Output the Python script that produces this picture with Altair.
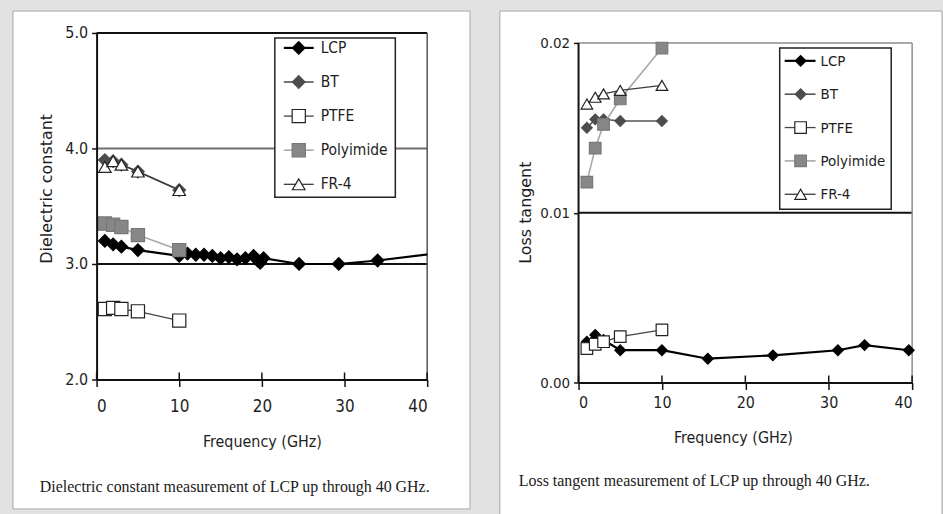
import altair as alt
import pandas as pd

SERIES = ["LCP", "BT", "PTFE", "Polyimide", "FR-4"]
DRAW_ORDER = ["BT", "LCP", "PTFE", "Polyimide", "FR-4"]
F5 = [1, 2, 3, 5, 10]
X_TICKS = [0, 10, 20, 30, 40]

# Dielectric constant (left panel)
DK_LCP_F = [1, 2, 3, 5, 10, 11, 12, 13, 14, 15, 16, 17, 18, 19, 19.5, 19.8, 20.2, 24.5, 29.3, 34, 42]
DK_LCP = [3.20, 3.17, 3.15, 3.12, 3.07, 3.09, 3.08, 3.08, 3.07, 3.05, 3.06, 3.04, 3.05, 3.07,
          3.03, 3.01, 3.05, 3.00, 3.00, 3.03, 3.10]
DK_BT = [3.90, 3.89, 3.86, 3.80, 3.64]
DK_PTFE = [2.61, 2.62, 2.61, 2.59, 2.51]
DK_PI = [3.35, 3.34, 3.32, 3.25, 3.12]
DK_FR4 = [3.84, 3.89, 3.86, 3.80, 3.64]
DK_TICKS = [2.0, 3.0, 4.0, 5.0]

# Loss tangent (right panel)
LT_LCP_F = [1, 2, 3, 5, 10, 15.5, 23.3, 31.1, 34.3, 39.6]
LT_LCP = [0.0024, 0.0028, 0.0025, 0.0019, 0.0019, 0.0014, 0.0016, 0.0019, 0.0022, 0.0019]
LT_BT = [0.0150, 0.0155, 0.0155, 0.0154, 0.0154]
LT_PTFE = [0.0020, 0.00225, 0.0024, 0.0027, 0.0031]
LT_PI = [0.0118, 0.0138, 0.0152, 0.0167, 0.0197]
LT_FR4 = [0.0164, 0.0168, 0.0170, 0.0172, 0.0175]
LT_TICKS = [0.0, 0.01, 0.02]

NARROW = "Liberation Sans Narrow, Arial Narrow, DejaVu Sans Condensed, Liberation Sans, sans-serif"
WIDE = "DejaVu Sans, Verdana, sans-serif"
SERIF = "Liberation Serif, Times New Roman, serif"
INK = "#1e1e1e"

STYLE = {
    "LCP": dict(shape="diamond", fill="#000000", stroke="#000000", line="#000000", lw=2.2),
    "BT": dict(shape="diamond", fill="#4d4d4d", stroke="#4d4d4d", line="#555555", lw=1.6),
    "PTFE": dict(shape="square", fill="#ffffff", stroke="#222222", line="#444444", lw=1.3),
    "Polyimide": dict(shape="square", fill="#878787", stroke="#777777", line="#a8a8a8", lw=1.6),
    "FR-4": dict(shape="triangle-up", fill="#ffffff", stroke="#222222", line="#3a3a3a", lw=1.3),
}

LEFT = dict(
    W=332, H=348, ydom=[2.0, 5.0], yticks=DK_TICKS, yfmt=".1f",
    data={"LCP": (DK_LCP_F, DK_LCP), "BT": (F5, DK_BT), "PTFE": (F5, DK_PTFE),
          "Polyimide": (F5, DK_PI), "FR-4": (F5, DK_FR4)},
    clip_lcp=True,
    ytitle="Dielectric constant", ytitleX=-45, ytitleY=156,
    xtitleX=166, xtitleY=67, xlabelPad=12, xlabelSize=17, ylabelSize=16,
    hrules=[(5.0, "#111111", 2), (4.0, "#6e6e6e", 2), (3.0, "#111111", 2)],
    vrules=[(40, 2.0, 5.0, "#555555", 1.5)],
    ydomainline=True,
    bg=(-97, 390), card=(-84, 375, -22, 478),
    box=(179, 300, 5, 165), rows=(15, 152), seg=(188, 218), sym=203, txt=225,
    msize=dict(diamond=160, square=175, **{"triangle-up": 160}),
    lsize=15.5, caption="Dielectric constant measurement of LCP up through 40 GHz.", cap=(-57, 461),
)

RIGHT = dict(
    W=335, H=351, ydom=[0.0, 0.02 * 351 / 341], yticks=LT_TICKS, yfmt=".2f",
    data={"LCP": (LT_LCP_F, LT_LCP), "BT": (F5, LT_BT), "PTFE": (F5, LT_PTFE),
          "Polyimide": (F5, LT_PI), "FR-4": (F5, LT_FR4)},
    clip_lcp=False,
    ytitle="Loss tangent", ytitleX=-48, ytitleY=180,
    xtitleX=155, xtitleY=60, xlabelPad=5, xlabelSize=16, ylabelSize=15,
    hrules=[(0.02, "#8c8c8c", 1.5), (0.01, "#111111", 2)],
    vrules=[(40, 0.0, 0.02, "#8c8c8c", 1.5), (0, 0.0, 0.02, "#111111", 2)],
    ydomainline=False,
    bg=(-94, 362), card=(-79, 365, -22, 485),
    box=(202, 314, 15, 177), rows=(28, 162), seg=(207, 238), sym=223, txt=243,
    msize=dict(diamond=115, square=135, **{"triangle-up": 135}),
    lsize=15, caption="Loss tangent measurement of LCP up through 40 GHz.", cap=(-60, 455),
)


def make_panel(P):
    W, H = P["W"], P["H"]
    xs = alt.Scale(domain=[0, 40], nice=False, zero=False)
    ys = alt.Scale(domain=P["ydom"], nice=False, zero=False)
    xaxis = alt.Axis(values=X_TICKS, format="d", title="Frequency (GHz)", titleFont=NARROW,
                     titleFontSize=16, titleFontWeight="normal", titleColor=INK,
                     titleX=P["xtitleX"], titleY=P["xtitleY"], titleAlign="center",
                     titleBaseline="alphabetic", labelFont=NARROW, labelFontSize=P["xlabelSize"],
                     labelColor=INK, labelPadding=P["xlabelPad"], tickSize=7, tickWidth=1.5,
                     tickColor="#111111", domainColor="#111111", domainWidth=2, grid=False,
                     zindex=1)
    yaxis = alt.Axis(values=P["yticks"], format=P["yfmt"], title=P["ytitle"], titleFont=WIDE,
                     titleFontSize=16, titleFontWeight="normal", titleColor=INK, titleAngle=270,
                     titleX=P["ytitleX"], titleY=P["ytitleY"], titleAlign="center",
                     titleBaseline="alphabetic", labelFont=NARROW, labelFontSize=P["ylabelSize"],
                     labelColor=INK, labelPadding=4, tickSize=5, tickWidth=1.5,
                     tickColor="#111111", domain=P["ydomainline"], domainColor="#111111",
                     domainWidth=2, grid=False, zindex=1)
    one = pd.DataFrame({"k": [0]})
    layers = []
    # page background and card
    layers.append(alt.Chart(one).mark_rect(fill="#e2e2e2").encode(
        x=alt.value(P["bg"][0]), x2=alt.value(P["bg"][1]), y=alt.value(-32), y2=alt.value(482)))
    cx0, cx1, cy0, cy1 = P["card"]
    layers.append(alt.Chart(one).mark_rect(fill="#ffffff", stroke="#a5a5a5", strokeWidth=1).encode(
        x=alt.value(cx0), x2=alt.value(cx1), y=alt.value(cy0), y2=alt.value(cy1)))
    # horizontal frame / grid lines
    for i, (v, col, w) in enumerate(P["hrules"]):
        layers.append(alt.Chart(pd.DataFrame({"v": [v]})).mark_rule(color=col, strokeWidth=w).encode(
            y=alt.Y("v:Q", scale=ys, axis=yaxis if i == 0 else None)))
    # vertical frame lines
    for (xv, y0, y1, col, w) in P["vrules"]:
        layers.append(alt.Chart(pd.DataFrame({"x": [xv], "a": [y0], "b": [y1]})).mark_rule(
            color=col, strokeWidth=w).encode(
            x=alt.X("x:Q", scale=xs, axis=xaxis), y=alt.Y("a:Q", scale=ys, axis=None), y2="b:Q"))
    # inner halves of x ticks
    layers.append(alt.Chart(pd.DataFrame({"t": X_TICKS})).mark_rule(color="#111111", strokeWidth=1.5).encode(
        x=alt.X("t:Q", scale=xs, axis=xaxis), y=alt.value(H), y2=alt.value(H - 7)))
    # series
    for s in DRAW_ORDER:
        f, v = P["data"][s]
        st = STYLE[s]
        df = pd.DataFrame({"f": f, "v": v})
        clip = bool(P["clip_lcp"] and s == "LCP")
        layers.append(alt.Chart(df).mark_line(color=st["line"], strokeWidth=st["lw"], clip=clip).encode(
            x=alt.X("f:Q", scale=xs, axis=xaxis), y=alt.Y("v:Q", scale=ys, axis=None)))
        layers.append(alt.Chart(df).mark_point(
            shape=st["shape"], filled=True, fill=st["fill"], stroke=st["stroke"], strokeWidth=1.2,
            size=P["msize"][st["shape"]], opacity=1, clip=clip).encode(
            x=alt.X("f:Q", scale=xs, axis=xaxis), y=alt.Y("v:Q", scale=ys, axis=None)))
    # legend box
    bx0, bx1, by0, by1 = P["box"]
    layers.append(alt.Chart(one).mark_rect(fill="#ffffff", stroke="#222222", strokeWidth=1.5).encode(
        x=alt.value(bx0), x2=alt.value(bx1), y=alt.value(by0), y2=alt.value(by1)))
    ls = alt.Scale(domain=[0, len(SERIES) - 1], range=list(P["rows"]), nice=False, zero=False)
    for i, s in enumerate(SERIES):
        st = STYLE[s]
        ldf = pd.DataFrame({"series": [s], "row": [i]})
        layers.append(alt.Chart(ldf).mark_rule(color=st["line"], strokeWidth=st["lw"]).encode(
            x=alt.value(P["seg"][0]), x2=alt.value(P["seg"][1]), y=alt.Y("row:Q", scale=ls, axis=None)))
        layers.append(alt.Chart(ldf).mark_point(
            shape=st["shape"], filled=True, fill=st["fill"], stroke=st["stroke"], strokeWidth=1.2,
            size=P["msize"][st["shape"]], opacity=1).encode(
            x=alt.value(P["sym"]), y=alt.Y("row:Q", scale=ls, axis=None)))
        layers.append(alt.Chart(ldf).mark_text(align="left", baseline="middle", font=NARROW,
                                               fontSize=P["lsize"], color=INK).encode(
            x=alt.value(P["txt"]), y=alt.Y("row:Q", scale=ls, axis=None), text="series:N"))
    # caption
    layers.append(alt.Chart(one).mark_text(text=P["caption"], align="left", baseline="alphabetic",
                                           font=SERIF, fontSize=16, color="#1a1a1a").encode(
        x=alt.value(P["cap"][0]), y=alt.value(P["cap"][1])))
    return alt.layer(*layers).resolve_scale(y="independent").properties(width=W, height=H)


chart = alt.hconcat(make_panel(LEFT), make_panel(RIGHT), spacing=152, bounds="flush").properties(
    padding=0, background="#e2e2e2").configure_view(stroke=None)

chart.save("out.html", embed_options={"renderer": "svg", "actions": False})
